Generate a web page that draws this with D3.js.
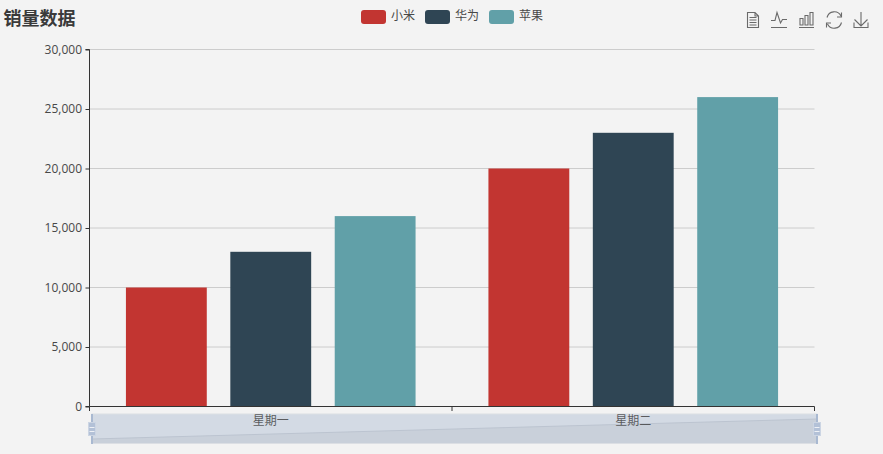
<!DOCTYPE html>
<html><head><meta charset="utf-8">
<script src="https://cdnjs.cloudflare.com/ajax/libs/d3/7.8.5/d3.min.js"></script>
<style>html,body{margin:0;padding:0;background:#f3f3f3;overflow:hidden}svg{display:block}text{font-family:"Open Sans","Noto Sans CJK SC",sans-serif}</style>
</head><body><svg id="c" width="883" height="454"></svg>
<script>
const categories = ["星期一", "星期二"];
const seriesNames = ["小米", "华为", "苹果"];
const xiaomi = [10000, 20000];
const huawei = [13000, 23000];
const apple = [16000, 26000];
const colors = ["#c23531", "#2f4554", "#61a0a8"];
const yTicks = [0, 5000, 10000, 15000, 20000, 25000, 30000];
const title = "销量数据";
const seriesValues = [xiaomi, huawei, apple];

const svg = d3.select("#c");
const L = 89.5, R = 814.5, T = 49.5, B = 406.5;
const x0 = d3.scaleBand().domain(categories).range([L, R]);
const x1 = d3.scaleBand().domain(seriesNames).range([0, x0.bandwidth()]).paddingInner(0.2256).paddingOuter(0.349);
const y = d3.scaleLinear().domain([0, 30000]).range([B, T]);
const cjk = '"Noto Sans CJK SC",sans-serif';

// gridlines
svg.append("g").selectAll("line").data(yTicks.slice(1)).join("line")
  .attr("x1", L).attr("x2", R).attr("y1", d => y(d)).attr("y2", d => y(d))
  .attr("stroke", "#ccc");

// bars
seriesNames.forEach((s, i) => {
  svg.append("g").selectAll("rect").data(seriesValues[i]).join("rect")
    .attr("x", (d, j) => x0(categories[j]) + x1(s))
    .attr("width", x1.bandwidth())
    .attr("y", d => y(d)).attr("height", d => B - y(d))
    .attr("fill", colors[i]);
});

// axes
const yAxis = d3.axisLeft(y).tickValues(yTicks).tickFormat(d3.format(",")).tickSize(4).tickPadding(3.5);
const gy = svg.append("g").attr("transform", `translate(${L},0)`).call(yAxis);
gy.select(".domain").attr("stroke", "#333").attr("d", `M-4,${T}H0V${B}H-4`);
gy.selectAll(".tick line").attr("stroke", "#333");
gy.selectAll("text").attr("fill", "#484848").style("font-size", "12px");

const xTickPos = [L, x0(categories[1]), R];
svg.append("path").attr("d", `M${L},${B}H${R}`).attr("stroke", "#333").attr("fill", "none");
svg.append("g").selectAll("line").data(xTickPos).join("line")
  .attr("x1", d => d).attr("x2", d => d).attr("y1", B).attr("y2", B + 4.5).attr("stroke", "#333");

// dataZoom slider
const sx = 92, sw = 725, sy = 414, sh = 29.5;
svg.append("rect").attr("x", sx).attr("y", sy).attr("width", sw).attr("height", sh).attr("fill", "#d3dae4");
const shade = d3.scaleLinear().domain([0, 1]).range([sx, sx + sw]);
svg.append("path").attr("fill", "#c9d0da")
  .attr("d", `M${shade(0)},${sy + sh}L${shade(0)},${sy + 25}L${shade(1)},${sy + 5}L${shade(1)},${sy + sh}Z`);
svg.append("path").attr("fill", "none").attr("stroke", "#bcc4d0")
  .attr("d", `M${shade(0)},${sy + 25}L${shade(1)},${sy + 5}`);
svg.append("rect").attr("x", sx).attr("y", sy).attr("width", sw).attr("height", sh)
  .attr("fill", "none").attr("stroke", "#dcdfe4");
[sx, sx + sw].forEach(hx => {
  svg.append("rect").attr("x", hx - 1).attr("y", sy).attr("width", 2).attr("height", 30).attr("fill", "#a9b9d1");
  svg.append("rect").attr("x", hx - 3.5).attr("y", 422.5).attr("width", 7).attr("height", 13).attr("fill", "#b3c1d7").attr("stroke", "#ccd5e3");
  [427, 431].forEach(ly => svg.append("rect").attr("x", hx - 2.5).attr("y", ly).attr("width", 5).attr("height", 1).attr("fill", "#eef1f6"));
});

// x labels
svg.append("g").selectAll("text").data(categories).join("text")
  .attr("x", d => x0(d) + x0.bandwidth() / 2).attr("y", 424.5)
  .attr("text-anchor", "middle").attr("fill", "#333").attr("opacity", .75)
  .style("font-family", cjk).style("font-size", "12px").text(d => d);

// title
svg.append("text").attr("x", 3.5).attr("y", 25).attr("fill", "#3a3a3a")
  .style("font-family", cjk).style("font-size", "18px").style("font-weight", "700").text(title);

// legend
const legendX = [361, 425, 489];
seriesNames.forEach((s, i) => {
  svg.append("rect").attr("x", legendX[i]).attr("y", 10).attr("width", 25).attr("height", 14).attr("rx", 3).attr("fill", colors[i]);
  svg.append("text").attr("x", legendX[i] + 30).attr("y", 20).attr("fill", "#484848")
    .style("font-family", cjk).style("font-size", "12px").text(s);
});

// toolbox
const tb = svg.append("g").attr("fill", "none").attr("stroke", "#6a6a6a").attr("stroke-width", 1.1);
tb.append("path").attr("d", "M747.5,12.5H755L758.5,16V27.5H747.5Z M755,12.5V16H758.5 M749.5,17.5H756.5 M749.5,20H756.5 M749.5,22.5H756.5 M749.5,25H756.5");
tb.append("path").attr("d", "M771,27.5H787 M771,20.5H775L777,12.5L780.5,23L782.5,19.5H787");
tb.append("path").attr("d", "M799,27.5H814 M800,18.5H803V25H800Z M805,15.5H808V25H805Z M810,12.5H813V25H810Z");
tb.append("path").attr("d", "M827,17.5A7.5,7.5 0 0 1 841,16 M841.5,22.5A7.5,7.5 0 0 1 827.5,24 M841.5,12.5V17H837 M826.5,27.5V23H831");
tb.append("path").attr("d", "M861,12V26 M854.5,19.5L861,26L867.5,19.5 M854,22.5V27.5H868V22.5");
</script></body></html>
